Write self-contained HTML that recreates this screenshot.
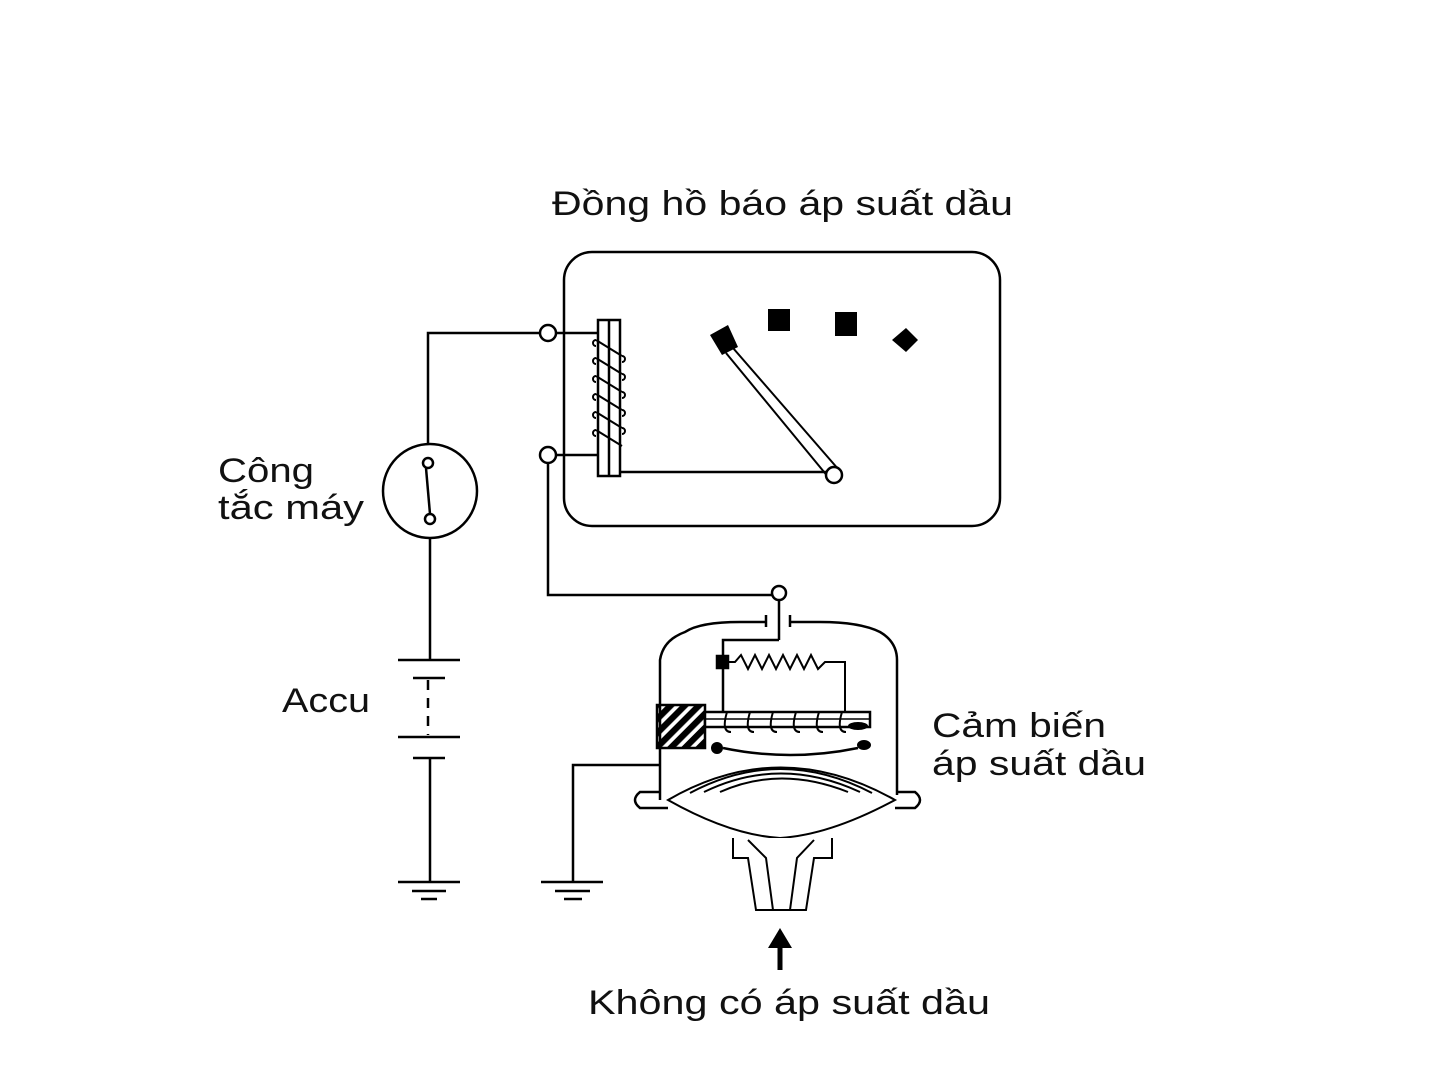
<!DOCTYPE html>
<html><head><meta charset="utf-8"><style>html,body{margin:0;padding:0;background:#fff}svg{display:block}</style></head>
<body>
<svg width="1441" height="1081" viewBox="0 0 1441 1081" xmlns="http://www.w3.org/2000/svg" font-family="Liberation Sans, DejaVu Sans, sans-serif" fill="none" stroke="#000" stroke-width="2.5">
<g fill="#111" stroke="none" font-size="34">
<text x="552" y="215" textLength="461" lengthAdjust="spacingAndGlyphs">Đồng hồ báo áp suất dầu</text>
<text x="218" y="482" textLength="96" lengthAdjust="spacingAndGlyphs">Công</text>
<text x="218" y="519" textLength="146" lengthAdjust="spacingAndGlyphs">tắc máy</text>
<text x="282" y="712" textLength="88" lengthAdjust="spacingAndGlyphs">Accu</text>
<text x="932" y="737" textLength="174" lengthAdjust="spacingAndGlyphs">Cảm biến</text>
<text x="932" y="775" textLength="214" lengthAdjust="spacingAndGlyphs">áp suất dầu</text>
<text x="588" y="1014" textLength="402" lengthAdjust="spacingAndGlyphs">Không có áp suất dầu</text>
</g>
<!-- gauge -->
<rect x="564" y="252" width="436" height="274" rx="28"/>
<circle cx="548" cy="333" r="8" fill="#fff"/>
<circle cx="548" cy="455" r="8" fill="#fff"/>
<line x1="556" y1="333" x2="598" y2="333"/>
<line x1="556" y1="455" x2="598" y2="455"/>
<rect x="598" y="320" width="22" height="156" fill="#fff"/>
<line x1="609" y1="320" x2="609" y2="476"/>
<g stroke-width="2">
<path d="M596 340 L622 356 M596 358 L622 374 M596 376 L622 392 M596 394 L622 410 M596 412 L622 428 M596 430 L622 446"/>
<path d="M596 340 a3 3 0 0 0 0 6 M596 358 a3 3 0 0 0 0 6 M596 376 a3 3 0 0 0 0 6 M596 394 a3 3 0 0 0 0 6 M596 412 a3 3 0 0 0 0 6 M596 430 a3 3 0 0 0 0 6 M622 356 a3 3 0 0 1 0 6 M622 374 a3 3 0 0 1 0 6 M622 392 a3 3 0 0 1 0 6 M622 410 a3 3 0 0 1 0 6 M622 428 a3 3 0 0 1 0 6"/>
</g>
<line x1="620" y1="472" x2="826" y2="472"/>
<path d="M733 348 L839 470 M726 353 L829 478" stroke-width="2"/>
<circle cx="834" cy="475" r="8" fill="#fff"/>
<g fill="#000" stroke="none">
<polygon points="710,335 728,325 738,347 722,355"/>
<rect x="768" y="309" width="22" height="22"/>
<rect x="835" y="312" width="22" height="24"/>
<polygon points="892,340 906,328 918,340 906,352"/>
</g>
<!-- left circuit -->
<polyline points="540,333 428,333 428,444"/>
<circle cx="430" cy="491" r="47"/>
<circle cx="428" cy="463" r="5" fill="#fff"/>
<circle cx="430" cy="519" r="5" fill="#fff"/>
<line x1="426" y1="468" x2="430" y2="514"/>
<line x1="430" y1="538" x2="430" y2="660"/>
<line x1="398" y1="660" x2="460" y2="660"/>
<line x1="413" y1="678" x2="445" y2="678"/>
<line x1="428" y1="680" x2="428" y2="735" stroke-dasharray="10 8"/>
<line x1="398" y1="737" x2="460" y2="737"/>
<line x1="413" y1="758" x2="445" y2="758"/>
<line x1="430" y1="758" x2="430" y2="882"/>
<line x1="398" y1="882" x2="460" y2="882"/>
<line x1="412" y1="891" x2="446" y2="891"/>
<line x1="421" y1="899" x2="437" y2="899"/>
<!-- sensor wire -->
<polyline points="548,463 548,595 772,595"/>
<circle cx="779" cy="593" r="7" fill="#fff"/>
<line x1="779" y1="600" x2="779" y2="640"/>
<path d="M766 615 V627 M790 615 V627"/>
<path d="M766 622 H740 Q700 622 685 632 Q663 640 660 660 V800"/>
<path d="M790 622 H820 Q860 622 880 632 Q897 642 897 660 V795"/>
<!-- flanges -->
<path d="M660 792 H640 Q630 800 640 808 H668"/>
<path d="M897 792 H915 Q925 800 915 808 H895"/>
<!-- internal -->
<polyline points="779,640 723,640 723,712"/>
<rect x="717" y="656" width="11" height="12" fill="#000"/>
<polyline points="728,662 735,662 741,655 748,669 755,655 762,669 769,655 776,669 783,655 790,669 797,655 804,669 811,655 818,669 825,662 845,662 845,712" stroke-width="2"/>
<defs><pattern id="h" width="10" height="10" patternUnits="userSpaceOnUse" patternTransform="rotate(45)"><rect width="5" height="10" fill="#000"/></pattern></defs>
<rect x="657" y="705" width="48" height="43" fill="url(#h)"/>
<rect x="705" y="712" width="165" height="15" fill="#fff"/>
<line x1="705" y1="719" x2="870" y2="719" stroke-width="1.5"/>
<path d="M727 712 q-6 20 4 20 M750 712 q-6 20 4 20 M773 712 q-6 20 4 20 M796 712 q-6 20 4 20 M819 712 q-6 20 4 20 M842 712 q-6 20 4 20" stroke-width="2"/>
<ellipse cx="858" cy="726" rx="10" ry="4" fill="#000" stroke="none"/>
<circle cx="717" cy="748" r="6" fill="#000" stroke="none"/>
<ellipse cx="864" cy="745" rx="7" ry="5" fill="#000" stroke="none"/>
<path d="M723 748 Q790 762 858 748"/>
<polyline points="660,765 573,765 573,882"/>
<line x1="541" y1="882" x2="603" y2="882"/>
<line x1="555" y1="891" x2="590" y2="891"/>
<line x1="564" y1="899" x2="582" y2="899"/>
<!-- diaphragm -->
<path d="M668 800 Q780 735 895 800 Q830 835 780 838 Q730 835 668 800 Z" stroke-width="2"/>
<path d="M690 793 Q780 745 872 793 M704 792 Q780 755 860 792 M720 792 Q780 765 848 792" stroke-width="2"/>
<path d="M733 838 V858 H748 L756 910 H806 L814 858 H832 V838" stroke-width="2" fill="#fff"/>
<path d="M748 840 L766 858 L773 910 M814 840 L797 858 L790 910 M756 910 H806" stroke-width="2"/>
<!-- arrow -->
<line x1="780" y1="970" x2="780" y2="945" stroke-width="5"/>
<polygon points="768,948 792,948 780,928" fill="#000" stroke="none"/>
</svg>
</body></html>
